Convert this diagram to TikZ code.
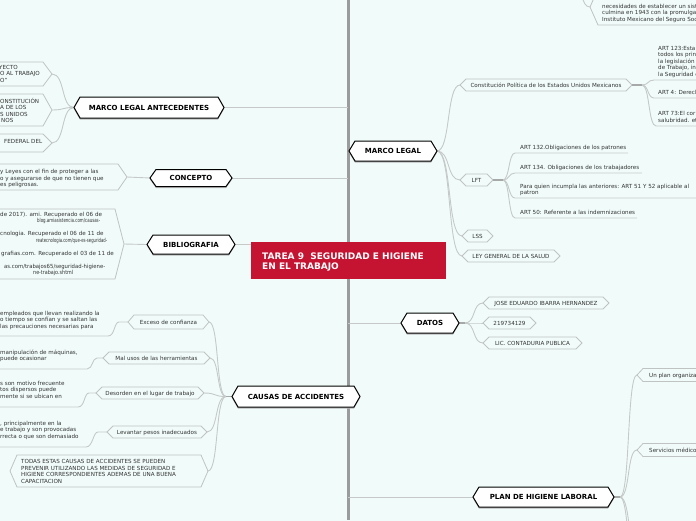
\documentclass[tikz,border=0pt]{standalone}
\usepackage{fontspec}
\usepackage{graphicx}
\setmainfont{DejaVu Sans}
\usetikzlibrary{calc}
\definecolor{bg}{HTML}{F1FCFA}
\definecolor{redbox}{HTML}{C51332}
\definecolor{cline}{HTML}{C5C9C8}
\definecolor{hexb}{HTML}{BFC3C2}
\definecolor{txt}{HTML}{333333}
\definecolor{axis}{HTML}{9B9B9B}
\definecolor{stub}{HTML}{A6A9A8}
\tikzset{
 stxt/.style={font=\fontsize{5.6}{6.5}\selectfont, text=txt, inner sep=0pt, anchor=base west},
 ctxt/.style={font=\fontsize{5.6}{6.5}\selectfont, text=txt, inner sep=0pt, anchor=base},
 mtxt/.style={font=\fontsize{7}{8}\selectfont\bfseries, text=black, inner sep=0pt, anchor=center},
 conn/.style={draw=cline, line width=0.9pt},
 stubline/.style={draw=stub, line width=1.8pt},
 subhex/.style={draw=hexb, fill=bg, line width=0.8pt},
 mainhex/.style={draw=black, fill=white, line width=1pt},
 shadowhex/.style={fill=black!28, draw=none},
}
\newcommand\hexp[7]{%
 \path[#7] (#2,#4) -- (#2+#6,#4-#5) -- (#3-#6,#4-#5) -- (#3,#4) -- (#3-#6,#4+#5) -- (#2+#6,#4+#5) -- cycle;
 \coordinate (#1-w) at (#2,#4);
 \coordinate (#1-e) at (#3,#4);
}
\newcommand\mainnode[6]{%
 \hexp{#1s}{#2}{#3}{#4+1.6}{#5}{6}{shadowhex}
 \hexp{#1}{#2}{#3}{#4}{#5}{6}{mainhex}
 \node[mtxt] (#1) at ({(#2+#3)/2},#4) {#6};
}
\newcommand\cnx[2]{\draw[conn] (#1) .. controls ($(#1)!0.6!(#2|-#1)$) and ($(#2)!0.6!(#1|-#2)$) .. (#2);}
\newcommand\ucurve[3]{\draw[conn] (#1) .. controls ($(#1)!0.55!(#2|-#1)$) and ($(#2)!0.55!(#1|-#2)$) .. (#2) -- (#3);}
\begin{document}
\begin{tikzpicture}[x=1pt,y=-1pt]
\useasboundingbox (0,0) rectangle (696,520);
\clip (0,0) rectangle (696,520);
\fill[bg] (-10,-10) rectangle (710,530);
% central axis
\coordinate (axt) at (348,0);
\coordinate (axb) at (348,520);
\draw[draw=axis, line width=3pt] (axt) -- (axb);

% ---------- hexagons of sub nodes ----------
\hexp{m1}{-20}{52}{74}{12}{9}{subhex}
\hexp{m2}{-20}{52}{110}{16}{9}{subhex}
\hexp{m3}{-20}{52}{143}{9}{9}{subhex}
\hexp{c1}{-20}{127}{177}{13}{9}{subhex}
\hexp{b1}{-20}{124}{244}{35}{9}{subhex}
\hexp{exc}{128}{209}{322}{7}{6}{subhex}
\hexp{mal}{103}{210}{358}{6}{6}{subhex}
\hexp{des}{96}{204}{393}{6}{6}{subhex}
\hexp{lev}{107}{207}{432}{6}{6}{subhex}
\hexp{tod}{10}{208}{471}{16}{7}{subhex}
\hexp{cp}{460}{632}{85}{6}{6}{subhex}
\hexp{lft}{460}{493}{180}{6}{6}{subhex}
\hexp{lss}{462}{493}{236}{6}{6}{subhex}
\hexp{ley}{462}{560}{256}{6}{6}{subhex}
\hexp{jo}{483}{609}{303}{6}{6}{subhex}
\hexp{num}{483}{536}{323}{6}{6}{subhex}
\hexp{lic}{483}{582}{343}{6}{6}{subhex}
\hexp{up}{637}{760}{375}{6.5}{6}{subhex}
\hexp{sm}{637}{760}{450}{6.5}{6}{subhex}
\hexp{tr}{590}{760}{7}{18}{8}{subhex}

% ---------- main node tips (for connectors) ----------
\coordinate (mla-w) at (74,107.5);  \coordinate (mla-e) at (224,107.5);
\coordinate (con-w) at (150,178);   \coordinate (con-e) at (232,178);
\coordinate (bib-w) at (147,244.5); \coordinate (bib-e) at (235,244.5);
\coordinate (cau-w) at (232,396.5);
\coordinate (mle-e) at (437,151);
\coordinate (dat-w) at (401,323);   \coordinate (dat-e) at (459,323);
\coordinate (pla-w) at (473,497);   \coordinate (pla-e) at (614,497);

% ---------- connectors ----------
\draw[conn] (mla-e) -- (mla-e -| axt);
\draw[conn] (con-e) -- (con-e -| axt);
\draw[conn] (bib-e) -- (252,244.5);
\draw[conn] (dat-w) -- (dat-w -| axt);
\draw[conn] (pla-w) -- (pla-w -| axt);
\cnx{mla-w}{m1-e}
\cnx{mla-w}{m2-e}
\cnx{mla-w}{m3-e}
\draw[conn] (con-w) -- (c1-e);
\draw[conn] (bib-w) -- (b1-e);
\coordinate (cau-b) at (226,396.5);
\cnx{cau-b}{exc-e}
\cnx{cau-b}{mal-e}
\cnx{cau-b}{des-e}
\cnx{cau-b}{lev-e}
\cnx{cau-b}{tod-e}
\draw[conn] (exc-w) -- (119,322) .. controls (114,322) and (115,336) .. (108,336) -- (-5,336);
\draw[conn] (mal-w) -- (97,358) .. controls (92,358) and (93,369) .. (87,369) -- (-5,369);
\draw[conn] (des-w) -- (89,393) .. controls (84,393) and (85,407) .. (78,407) -- (-5,407);
\draw[conn] (lev-w) -- (98,432) .. controls (93,432) and (93,447) .. (86,447) -- (-5,447);
\cnx{mle-e}{cp-w}
\cnx{mle-e}{lft-w}
\cnx{mle-e}{lss-w}
\cnx{mle-e}{ley-w}
\coordinate (cp-b) at (642,85);
\coordinate (a123u) at (654,80);  \coordinate (a4u) at (654,98);  \coordinate (a73u) at (656,126);
\ucurve{cp-b}{a123u}{720,80}
\ucurve{cp-b}{a4u}{720,98}
\ucurve{cp-b}{a73u}{720,126}
\coordinate (lft-b) at (503,180);
\coordinate (l1u) at (515,153); \coordinate (l2u) at (515,173);
\coordinate (l3u) at (515,198); \coordinate (l4u) at (515,218);
\ucurve{lft-b}{l1u}{628,153}
\ucurve{lft-b}{l2u}{642,173}
\ucurve{lft-b}{l3u}{720,198}
\ucurve{lft-b}{l4u}{637,218}
\coordinate (dat-b) at (465,323);
\cnx{dat-b}{jo-w}
\cnx{dat-b}{num-w}
\cnx{dat-b}{lic-w}
\coordinate (pla-b) at (620,497);
\coordinate (pl3) at (640,570);
\coordinate (pl4) at (640,640);
\cnx{pla-b}{up-w}
\cnx{pla-b}{sm-w}
\cnx{pla-b}{pl3}
\cnx{pla-b}{pl4}
\coordinate (tr-in) at (574,-14);
\cnx{tr-in}{tr-w}
% stubs
\draw[stubline] (cau-w) -- (cau-b);
\draw[stubline] (cp-e) -- (cp-b);
\draw[stubline] (lft-e) -- (lft-b);
\draw[stubline] (dat-e) -- (dat-b);
\draw[stubline] (pla-e) -- (pla-b);

% ---------- texts of sub nodes ----------
\node[stxt] (m1a) at (-1,69) {YECTO};
\node[stxt] (m1b) at (0,75.5) {O AL TRABAJO};
\node[stxt] (m1c) at (0,82) {O”};
\node[stxt] (m2a) at (0,103) {ONSTITUCIÓN};
\node[stxt] (m2b) at (0,109.5) {A DE LOS};
\node[stxt] (m2c) at (0,116) {S UNIDOS};
\node[stxt] (m2d) at (1,122.5) {NOS};
\node[stxt] (m3a) at (4,143) {FEDERAL DEL};
\node[stxt] (c1a) at (0,173.5) {y Leyes con el fin de proteger a las};
\node[stxt] (c1b) at (0,180) {o y asegurarse de que no tienen que};
\node[stxt] (c1c) at (0,186.5) {es peligrosas.};
\node[stxt] (b1a) at (0,216) {de 2017). ami. Recuperado el 06 de};
\node[stxt] (b1b) at (37,222.5) {\resizebox{63pt}{\height}{blog.amiasistencia.com/causas-}};
\node[stxt] (b1c) at (0,235.5) {cnologia. Recuperado el 06 de 11 de};
\node[stxt] (b1d) at (36,242) {\resizebox{71pt}{\height}{reatecnologia.com/que-es-seguridad-}};
\node[stxt] (b1e) at (1,255) {grafias.com. Recuperado el 03 de 11 de};
\node[stxt] (b1f) at (4,268) {\resizebox{101pt}{\height}{as.com/trabajos65/seguridad-higiene-}};
\node[stxt] (b1g) at (33,274.5) {\resizebox{40pt}{\height}{ne-trabajo.shtml}};
\node[stxt] (caa) at (0,315) {empleados que llevan realizando la};
\node[stxt] (cab) at (0,321.5) {o tiempo se confían y se saltan las};
\node[stxt] (cac) at (0,328) {las precauciones necesarias para};
\node[stxt] (cba) at (0,354) {manipulación de máquinas,};
\node[stxt] (cbb) at (0,360) {puede ocasionar};
\node[stxt] (cca) at (0,385) {s son motivo frecuente};
\node[stxt] (ccb) at (0,391.5) {tos dispersos puede};
\node[stxt] (ccc) at (0,398) {mente si se ubican en};
\node[stxt] (cda) at (0,425) {, principalmente en la};
\node[stxt] (cdb) at (0,431.5) {e trabajo y son provocadas};
\node[stxt] (cdc) at (0,438) {rrecta o que son demasiado};
\node[ctxt] (exct) at (168.5,324) {Exceso de confianza};
\node[ctxt] (malt) at (156.5,360) {Mal usos de las herramientas};
\node[ctxt] (dest) at (150,395) {Desorden en el lugar de trabajo};
\node[ctxt] (levt) at (157,434) {Levantar pesos inadecuados};
\node[stxt] (toda) at (21,463.8) {TODAS ESTAS CAUSAS DE ACCIDENTES SE PUEDEN};
\node[stxt] (todb) at (21,470.2) {PREVENIR UTILIZANDO LAS MEDIDAS DE SEGURIDAD E};
\node[stxt] (todc) at (21,476.6) {HIGIENE CORRESPONDIENTES ADEMAS DE UNA BUENA};
\node[stxt] (todd) at (21,483) {CAPACITACION};
\node[stxt] (tra) at (602,8) {necesidades de establecer un sist};
\node[stxt] (trb) at (602,14.5) {culmina en 1943 con la promulgac};
\node[stxt] (trc) at (602,21) {Instituto Mexicano del Seguro Soc};
\node[ctxt] (cpt) at (546,87) {Constitución Política de los Estados Unidos Mexicanos};
\node[stxt] (a123a) at (658,50) {ART 123:Esta};
\node[stxt] (a123b) at (658,56.5) {todos los prin};
\node[stxt] (a123c) at (658,63) {la legislación};
\node[stxt] (a123d) at (658,69.5) {de Trabajo, in};
\node[stxt] (a123e) at (658,76) {la Seguridad e};
\node[stxt] (a4a) at (658,94) {ART 4: Derech};
\node[stxt] (a73a) at (658,115.5) {ART 73:El cor};
\node[stxt] (a73b) at (658,122) {salubridad. et};
\node[ctxt] (lftt) at (476.5,182) {LFT};
\node[ctxt] (lsst) at (477.5,238) {LSS};
\node[ctxt] (leyt) at (511,258) {LEY GENERAL DE LA SALUD};
\node[stxt] (l1t) at (520,149) {ART 132.Obligaciones de los patrones};
\node[stxt] (l2t) at (520,169) {ART 134. Obligaciones de los trabajadores};
\node[stxt] (l3t) at (520,188) {Para quien incumpla las anteriores: ART 51 Y 52 aplicable al};
\node[stxt] (l3v) at (520,194.5) {patron};
\node[stxt] (l4t) at (520,214) {ART 50: Referente a las indemnizaciones};
\node[ctxt] (jot) at (546,305) {JOSE EDUARDO IBARRA HERNANDEZ};
\node[ctxt] (numt) at (509.5,325) {219734129};
\node[ctxt] (lict) at (532.5,345) {LIC. CONTADURIA PUBLICA};
\node[stxt] (upt) at (649,377) {Un plan organiza};
\node[stxt] (smt) at (649,452) {Servicios médicos};

% ---------- main nodes ----------
\mainnode{mla}{74}{224}{107.5}{10.5}{MARCO LEGAL ANTECEDENTES}
\mainnode{con}{150}{232}{178}{8.5}{CONCEPTO}
\mainnode{bib}{147}{235}{244.5}{9.5}{BIBLIOGRAFIA}
\mainnode{cau}{232}{360}{396.5}{10.5}{CAUSAS DE ACCIDENTES}
\mainnode{mle}{349}{437}{151}{10}{MARCO LEGAL}
\mainnode{dat}{401}{459}{323}{10}{DATOS}
\mainnode{pla}{473}{614}{497}{10}{PLAN DE HIGIENE LABORAL}

% ---------- central node ----------
\node[fill=redbox, draw=none, minimum width=195pt, minimum height=37pt, inner sep=0pt, anchor=north west] (tar) at (251,242) {};
\node[font=\fontsize{9}{10.4}\selectfont\bfseries, text=white, align=left, inner sep=0pt, anchor=north west] (tart) at (262,252.6) {TAREA 9\ \ SEGURIDAD E HIGIENE\\EN EL TRABAJO};
\end{tikzpicture}
\end{document}
